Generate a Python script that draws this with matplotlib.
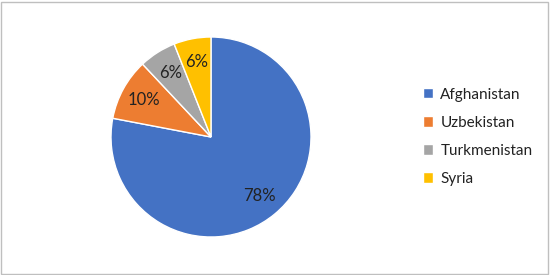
import matplotlib.pyplot as plt
from matplotlib.patches import Rectangle

countries = ["Afghanistan", "Uzbekistan", "Turkmenistan", "Syria"]
shares = [78, 10, 6, 6]
colors = ["#4472C4", "#ED7D31", "#A5A5A5", "#FFC000"]

plt.rcParams['font.family'] = ['Lato', 'DejaVu Sans']

fig = plt.figure(figsize=(5.5, 2.75), dpi=100)
ax = fig.add_axes([(211 - 100) / 550, (275 - 137 - 100) / 275, 200 / 550, 200 / 275])

wedges, texts, autotexts = ax.pie(
    shares, colors=colors, startangle=90, counterclock=False,
    autopct=lambda p: f"{p:.0f}%", pctdistance=0.76,
    wedgeprops=dict(edgecolor="white", linewidth=1),
    textprops=dict(fontsize=12, color="#222222"))
ax.set_xlim(-1, 1)
ax.set_ylim(-1, 1)
ax.set_aspect("equal")

fig.legend(wedges, countries, loc="upper left", bbox_to_anchor=(409 / 550, 1 - 74 / 275),
           frameon=False, fontsize=11, handlelength=0.65, handleheight=0.65,
           handletextpad=0.5, labelspacing=0.92, labelcolor="#222222")

fig.patches.append(Rectangle((0.002, 0.004), 0.995, 0.99, transform=fig.transFigure,
                             fill=False, edgecolor="#BFBFBF", linewidth=1))

fig.savefig("out.png", dpi=100)
